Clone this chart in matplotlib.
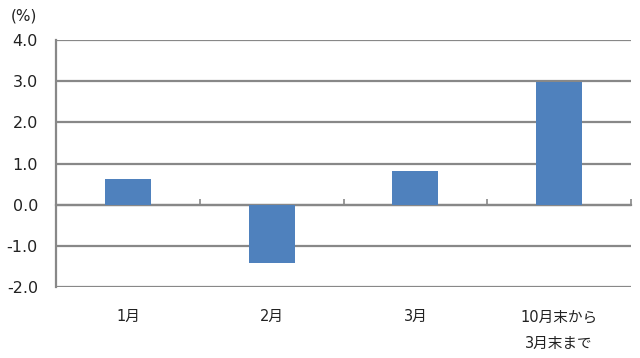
import matplotlib
matplotlib.use('Agg')
import matplotlib.pyplot as plt
import numpy as np

plt.rcParams['font.family'] = ['DejaVu Sans', 'Noto Sans CJK JP']

categories = ['1月', '2月', '3月', '10月末から\n3月末まで']
values = [0.62, -1.42, 0.82, 2.98]
yticks = [-2.0, -1.0, 0.0, 1.0, 2.0, 3.0, 4.0]

grid_color = '#888888'
bar_color = '#4F81BD'
text_color = '#222222'

fig = plt.figure(figsize=(6.4, 3.58), dpi=100)
ax = fig.add_axes([56/640, 1 - 287/358, 575/640, 247/358])

x = np.arange(len(categories))
ax.bar(x, values, width=0.32, color=bar_color, zorder=3)

ax.set_xlim(-0.5, len(categories) - 0.5)
ax.set_ylim(yticks[0], yticks[-1])
ax.set_yticks(yticks)
ax.set_yticklabels([f'{v:.1f}' for v in yticks], fontsize=11.5, color=text_color)
ax.yaxis.grid(True, color=grid_color, linewidth=1.6, zorder=1)
ax.tick_params(axis='y', length=0, pad=13)

for s in ['top', 'right', 'bottom']:
    ax.spines[s].set_visible(False)
ax.spines['left'].set_color(grid_color)
ax.spines['left'].set_linewidth(1.6)

ax.set_xticks(x)
ax.set_xticklabels(categories, fontsize=10.5, linespacing=1.95, va='top',
                   color=text_color)
ax.tick_params(axis='x', length=0, pad=16)

# zero line with category separator ticks
zero_pos = (0 - yticks[0]) / (yticks[-1] - yticks[0])
sec = ax.secondary_xaxis(zero_pos)
sec.set_xticks(np.arange(len(categories)) + 0.5)
sec.set_xticklabels([])
sec.tick_params(direction='in', length=4, width=1.2, color=grid_color)
sec.spines['bottom'].set_color(grid_color)
sec.spines['bottom'].set_linewidth(1.6)
sec.spines['bottom'].set_zorder(4)

fig.text(11/640, 1 - 16/358, '(%)', fontsize=11, va='center', ha='left',
         color=text_color)

fig.savefig('out.png', dpi=100)
